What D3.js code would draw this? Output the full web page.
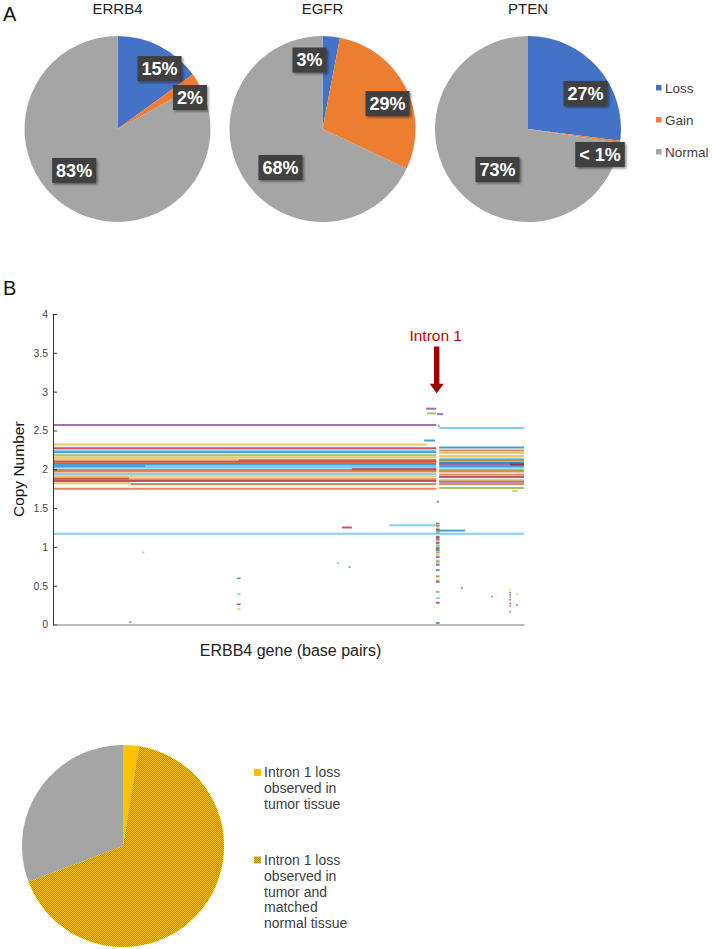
<!DOCTYPE html>
<html><head><meta charset="utf-8">
<script src="https://cdn.jsdelivr.net/npm/d3@7"></script>
<style>
body{margin:0;background:#fff}
svg{display:block}
text{font-family:"Liberation Sans",Arial,Helvetica,sans-serif}
</style>
</head><body>
<svg id="c" width="712" height="949"></svg>
<script>
// ---------------- DATA ----------------
// Panel A
const pieTitles = ["ERRB4", "EGFR", "PTEN"];
const cnvCategories = ["Loss", "Gain", "Normal"];
const errb4Values = [15, 2, 83];
const egfrValues = [3, 29, 68];
const ptenValues = [27, 0.4, 72.6];
const errb4Labels = ["15%", "2%", "83%"];
const egfrLabels = ["3%", "29%", "68%"];
const ptenLabels = ["27%", "< 1%", "73%"];

// Panel B: segments [startKb, endKb, copyNumber, sampleId]
const yTickValues = [0, 0.5, 1, 1.5, 2, 2.5, 3, 3.5, 4];
const yTickLabels = ["0", "0.5", "1", "1.5", "2", "2.5", "3", "3.5", "4"];
const geneLengthKb = 1160;
const intron1Kb = 945;
const intronLabel = "Intron 1";

const leftSegments = [
  [0, 944, 2.57, 3], [0, 921, 2.32, 2], [0, 944, 2.27, 6], [0, 944, 2.24, 5],
  [0, 944, 2.22, 0], [0, 944, 2.18, 4], [0, 944, 2.15, 2], [0, 457, 2.125, 2],
  [457, 944, 2.12, 1], [0, 944, 2.10, 6], [0, 944, 2.08, 1], [0, 944, 2.06, 0],
  [0, 227, 2.04, 0], [227, 944, 2.04, 5], [0, 944, 2.02, 5], [736, 944, 2.0, 6],
  [0, 944, 1.99, 1], [0, 944, 1.97, 1], [0, 944, 1.94, 5], [0, 944, 1.91, 2],
  [0, 187, 1.88, 6], [0, 944, 1.87, 1], [0, 944, 1.85, 6], [0, 192, 1.82, 2],
  [192, 944, 1.81, 1], [0, 944, 1.75, 1]
];
const rightSegments = [
  [951, 1160, 2.53, 5], [951, 1160, 2.28, 0], [951, 1160, 2.24, 1], [951, 1160, 2.21, 2],
  [951, 1160, 2.17, 2], [951, 1160, 2.14, 5], [951, 1160, 2.12, 1], [951, 1160, 2.10, 4],
  [951, 1160, 2.08, 0], [951, 1160, 2.06, 3], [1126, 1160, 2.06, 6], [951, 1160, 2.04, 0],
  [951, 1160, 2.02, 5], [951, 1160, 1.99, 4], [951, 1160, 1.97, 1], [951, 1160, 1.93, 1],
  [951, 1160, 1.90, 6], [951, 1160, 1.86, 2], [951, 1160, 1.84, 3], [951, 1160, 1.81, 1],
  [951, 1160, 1.76, 4], [1131, 1145, 1.72, 2]
];
const localSegments = [
  [919, 944, 2.78, 3], [921, 944, 2.72, 4], [946, 961, 2.71, 3], [948, 952, 2.56, 0],
  [914, 941, 2.37, 0], [946, 950, 1.58, 6], [828, 944, 1.28, 5], [946, 1015, 1.21, 0],
  [712, 736, 1.25, 6], [0, 1160, 1.17, 5]
];
const intronColumnValues = [1.30, 1.27, 1.24, 1.22, 1.20, 1.18, 1.13, 1.11, 1.09, 1.07,
  1.05, 1.02, 1.00, 0.98, 0.96, 0.93, 0.90, 0.87, 0.82, 0.80, 0.77, 0.70, 0.62, 0.57,
  0.55, 0.42, 0.34, 0.28, 0.02];
const scatterSegments = [
  [188, 193, 0.03, 0], [220, 225, 0.93, 5], [453, 462, 0.595, 0], [453, 462, 0.39, 5],
  [453, 462, 0.26, 6], [453, 462, 0.20, 2], [699, 705, 0.79, 5], [728, 733, 0.74, 0],
  [1005, 1009, 0.47, 6], [1079, 1083, 0.36, 3], [1124, 1128, 0.45, 2], [1124, 1128, 0.41, 3],
  [1124, 1128, 0.38, 6], [1124, 1128, 0.35, 4], [1124, 1128, 0.32, 3], [1124, 1128, 0.27, 6],
  [1124, 1128, 0.24, 1], [1124, 1128, 0.165, 0], [1141, 1145, 0.39, 2], [1141, 1145, 0.25, 3]
];

// Bottom pie
const intronCategories = ["Intron 1 loss observed in tumor tissue",
  "Intron 1 loss observed in tumor and matched normal tissue", "No intron 1 loss"];
const intronCounts = [1, 26, 12];
const intronLegendLines = [["Intron 1 loss", "observed in", "tumor tissue"],
  ["Intron 1 loss", "observed in", "tumor and", "matched", "normal tissue"]];

// ---------------- LAYOUT / STYLE ----------------
const cnvColors = ["#4472C4", "#ED7D31", "#A5A5A5"];
const lineColors = ["#0072BD", "#D95319", "#EDB120", "#7E2F8E", "#77AC30", "#4DBEEE", "#A2142F"];
const pieCenters = [[117.5, 129], [322.5, 129], [528, 129]];
const pieRadius = 93;
// label spots: [angle deg clockwise from 12 o'clock, radius]
const labelSpots = [
  [[34.8, 73.6], [66.5, 79], [226.3, 60]],
  [[349.3, 70.2], [68.6, 69.8], [227.5, 57]],
  [[58.3, 67.6], [109.5, 76.4], [217, 50.7]]
];

const svg = d3.select("#c");
const defs = svg.append("defs");
const f = defs.append("filter").attr("id", "sh").attr("x", "-20%").attr("y", "-20%").attr("width", "150%").attr("height", "160%");
f.append("feDropShadow").attr("dx", 1.5).attr("dy", 1.5).attr("stdDeviation", 1.2).attr("flood-color", "#000").attr("flood-opacity", 0.45);

const pat = defs.append("pattern").attr("id", "dots").attr("patternUnits", "userSpaceOnUse")
  .attr("width", 2).attr("height", 2);
pat.append("rect").attr("width", 2).attr("height", 2).attr("fill", "#FFC000");
pat.append("rect").attr("width", 1).attr("height", 1).attr("fill", "#B08500");
pat.append("rect").attr("x", 1).attr("y", 1).attr("width", 1).attr("height", 1).attr("fill", "#B08500");

// Panel letters
svg.append("text").attr("x", 3).attr("y", 21).attr("font-size", 20).attr("fill", "#111").text("A");
svg.append("text").attr("x", 3).attr("y", 295).attr("font-size", 20).attr("fill", "#111").text("B");

// ---------------- PANEL A ----------------
const pie = d3.pie().sort(null).value(d => d);
const arc = d3.arc().innerRadius(0).outerRadius(pieRadius);
const pieSets = [errb4Values, egfrValues, ptenValues];
const labelSets = [errb4Labels, egfrLabels, ptenLabels];

pieSets.forEach((vals, i) => {
  const g = svg.append("g").attr("transform", `translate(${pieCenters[i][0]},${pieCenters[i][1]})`);
  g.selectAll("path").data(pie(vals)).join("path")
    .attr("d", arc).attr("fill", (d, j) => cnvColors[j]);
  svg.append("text").attr("x", pieCenters[i][0]).attr("y", 14).attr("text-anchor", "middle")
    .attr("font-size", 15).attr("fill", "#222").text(pieTitles[i]);
  labelSets[i].forEach((lab, j) => {
    const a = labelSpots[i][j][0] * Math.PI / 180, r = labelSpots[i][j][1];
    const cx = Math.sin(a) * r, cy = -Math.cos(a) * r;
    const lg = g.append("g").attr("transform", `translate(${cx},${cy})`);
    const t = lg.append("text").attr("text-anchor", "middle").attr("dy", "0.35em")
      .attr("font-size", 18).attr("font-weight", "bold").attr("fill", "#fff").text(lab);
    const bb = t.node().getBBox();
    lg.insert("rect", "text").attr("x", bb.x - 4).attr("y", -12.5).attr("width", bb.width + 8)
      .attr("height", 25).attr("fill", "#404040").attr("filter", "url(#sh)");
  });
});

// Legend A
const legA = svg.append("g");
cnvCategories.forEach((c, i) => {
  const yy = 88 + i * 32;
  legA.append("rect").attr("x", 656).attr("y", yy - 3).attr("width", 5.5).attr("height", 5.5).attr("fill", cnvColors[i]);
  legA.append("text").attr("x", 665).attr("y", yy).attr("dy", "0.35em").attr("font-size", 13.5)
    .attr("fill", "#404040").text(c);
});

// ---------------- PANEL B ----------------
const x = d3.scaleLinear().domain([0, geneLengthKb]).range([53, 524]);
const y = d3.scaleLinear().domain([0, 4]).range([624.5, 314]);
const col = id => lineColors[id % lineColors.length];

const plot = svg.append("g");
const drawSegs = (arr, w) => plot.append("g").selectAll("line").data(arr).join("line")
  .attr("x1", d => x(d[0])).attr("x2", d => x(d[1]))
  .attr("y1", d => y(d[2])).attr("y2", d => y(d[2]))
  .attr("stroke", d => col(d[3])).attr("stroke-width", w).attr("stroke-opacity", 0.7);
drawSegs(leftSegments, 2);
drawSegs(rightSegments, 2);
drawSegs(localSegments, 2);
drawSegs(intronColumnValues.map((v, i) => [943, 952, v, i]), 2);
drawSegs(scatterSegments, 1.6);

// axes
const yAxis = d3.axisLeft(y).tickValues(yTickValues).tickFormat((d, i) => yTickLabels[i])
  .tickSizeInner(-4).tickSizeOuter(0).tickPadding(5);
const ya = svg.append("g").attr("transform", `translate(${x(0)},0)`).call(yAxis);
ya.select(".domain").attr("stroke", "#333");
ya.selectAll(".tick line").attr("stroke", "#333");
ya.selectAll("text").attr("font-size", 10.5).attr("fill", "#444").attr("font-family", "Liberation Sans, Arial, sans-serif");

const xAxis = d3.axisBottom(x).tickValues([]).tickSizeOuter(0);
const xa = svg.append("g").attr("transform", `translate(0,${y(0)})`).call(xAxis);
xa.select(".domain").attr("stroke", "#777").attr("stroke-width", 1.2);

svg.append("text").attr("transform", `translate(24,${y(2)}) rotate(-90)`).attr("text-anchor", "middle")
  .attr("font-size", 15.5).attr("fill", "#111").text("Copy Number");
svg.append("text").attr("x", x(geneLengthKb / 2) + 2).attr("y", 656).attr("text-anchor", "middle")
  .attr("font-size", 16).attr("fill", "#222").text("ERBB4 gene (base pairs)");

// Intron 1 annotation
const ax = x(intron1Kb);
svg.append("text").attr("x", ax - 1).attr("y", 341).attr("text-anchor", "middle")
  .attr("font-size", 15.5).attr("fill", "#C00000").text(intronLabel);
const yTop = y(3.58), yHead = y(3.1), yTip = y(2.98);
svg.append("path").attr("fill", "#9E0000")
  .attr("d", `M${ax - 2.7},${yTop}L${ax + 2.7},${yTop}L${ax + 2.7},${yHead}L${ax + 7},${yHead}L${ax},${yTip}L${ax - 7},${yHead}L${ax - 2.7},${yHead}Z`);

// ---------------- BOTTOM PIE ----------------
const bc = [123, 846], br = 101;
const bottomFills = ["#FFC000", "url(#dots)", "#A5A5A5"];
const arcB = d3.arc().innerRadius(0).outerRadius(br);
svg.append("g").attr("transform", `translate(${bc[0]},${bc[1]})`)
  .selectAll("path").data(pie(intronCounts)).join("path")
  .attr("d", arcB).attr("fill", (d, i) => bottomFills[i]);

const legB = svg.append("g");
const legBStart = [772.5, 860];
intronLegendLines.forEach((lines, i) => {
  legB.append("rect").attr("x", 254).attr("y", legBStart[i] - 3.5).attr("width", 7).attr("height", 7)
    .attr("fill", bottomFills[i]);
  lines.forEach((ln, k) => {
    legB.append("text").attr("x", 264).attr("y", legBStart[i] + k * 15.8).attr("dy", "0.35em")
      .attr("font-size", 14).attr("fill", "#404040").text(ln);
  });
});
</script>
</body></html>
